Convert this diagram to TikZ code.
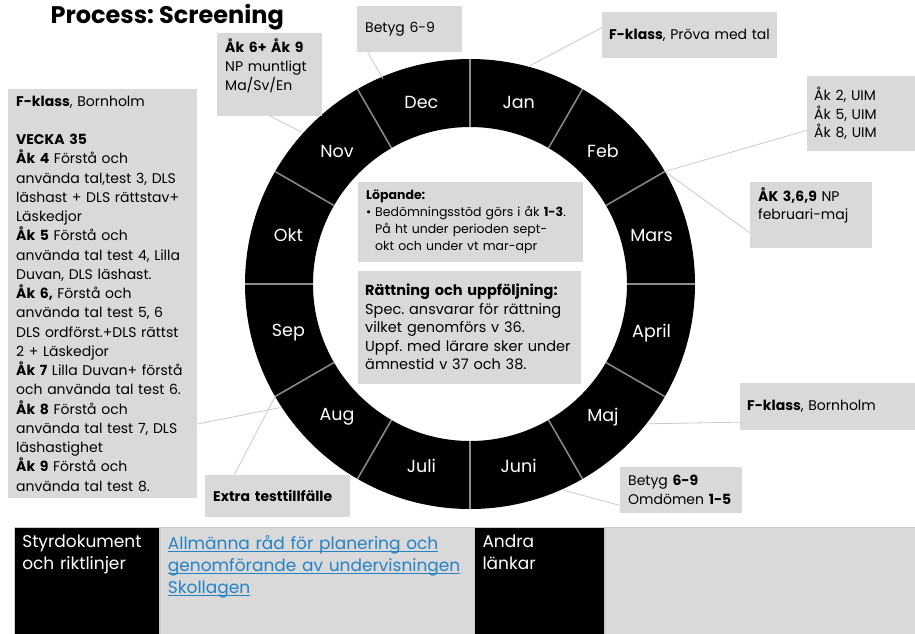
\documentclass[tikz,border=0pt]{standalone}
\usepackage{fontspec}
\setmainfont{Poppins}
\usetikzlibrary{positioning}
\definecolor{boxgray}{RGB}{217,217,217}
\definecolor{sepgray}{RGB}{140,140,140}
\definecolor{leadgray}{RGB}{200,200,200}
\definecolor{linkblue}{RGB}{38,131,198}
\newcommand\lnk[1]{\leavevmode\setbox0=\hbox{#1}\rlap{\rule[-2.5pt]{\wd0}{0.8pt}}\box0}
\frenchspacing

\begin{document}
\begin{tikzpicture}[x=1pt,y=-1pt,
    infobox/.style={rectangle, fill=boxgray, anchor=north west, inner xsep=8pt, inner ysep=5pt, align=left, font=\fontsize{14}{19.25}\selectfont},
    month/.style={text=white, font=\fontsize{17.5}{19}\selectfont},
    sepline/.style={sepgray, line width=1.5pt},
    leader/.style={leadgray, line width=0.8pt},
    cell/.style={rectangle, draw=gray!40, line width=0.6pt, anchor=north west, inner xsep=8pt, inner ysep=8pt, align=left, font=\fontsize{17}{22}\selectfont}]
\useasboundingbox (0,0) rectangle (915,633);

\node[anchor=base west, font=\fontsize{24}{28}\selectfont\bfseries] (title) at (47,23) {Process: Screening};

% arshjulet
\begin{scope}[shift={(470,284)}, yscale=-1]
  \fill[black, even odd rule] (0,0) circle (225) (0,0) circle (157);
  \foreach \a in {0,30,...,330}
    \draw[sepline] (\a:157) -- (\a:225);
  \foreach \m/\a in {Jan/75, Feb/45, Mars/15, April/-15, Maj/-45, Juni/-75, Juli/-105, Aug/-135, Sep/-165, Okt/165, Nov/135, Dec/105}
    \node[month] (m-\m) at (\a:188) {\m};
  \coordinate (p-jan) at (75:225);
  \coordinate (p-feb) at (30:225);
  \coordinate (p-maj) at (-38:227);
  \coordinate (p-juni) at (-66:225);
  \coordinate (p-sep) at (210:225);
  \coordinate (p-aug) at (213:227);
  \coordinate (p-nov) at (138:227);
  \coordinate (p-dec) at (113:223);
\end{scope}

% rutor runt hjulet
\node[infobox, text width=89pt, minimum height=46pt] (betyg) at (357,6) {Betyg 6-9};
\node[infobox, text width=89pt, minimum height=82pt] (muntligt) at (217,33) {\textbf{Åk 6+ Åk 9}\\NP muntligt\\Ma/Sv/En\rule[-20pt]{0pt}{0pt}};
\node[infobox, text width=173pt, minimum height=409pt] (fklass) at (8,89) {\textbf{F-klass}, Bornholm\\[19.25pt]
  \textbf{VECKA 35}\\
  \textbf{Åk 4} Förstå och\\
  använda tal,test 3, DLS\\
  läshast + DLS rättstav+\\
  Läskedjor\\
  \textbf{Åk 5} Förstå och\\
  använda tal test 4, Lilla\\
  Duvan, DLS läshast.\\
  \textbf{Åk 6,} Förstå och\\
  använda tal test 5, 6\\
  DLS ordförst.+DLS rättst\\
  2 + Läskedjor\\
  \textbf{Åk 7} Lilla Duvan+ förstå\\
  och använda tal test 6.\\
  \textbf{Åk 8} Förstå och\\
  använda tal test 7, DLS\\
  läshastighet\\
  \textbf{Åk 9} Förstå och\\
  använda tal test 8.};
\node[infobox, text width=129pt, minimum height=42pt] (extra) at (205,475) {\textbf{Extra testtillfälle}};
\node[infobox, text width=161pt, minimum height=46pt, inner xsep=7pt] (prova) at (602,12) {\textbf{F-klass}, Pröva med tal};
\node[infobox, text width=94pt, minimum height=75pt, inner xsep=7pt, font=\fontsize{14}{18.5}\selectfont] (uim) at (807,76) {Åk 2, UIM\\Åk 5, UIM\\Åk 8, UIM};
\node[infobox, text width=106pt, minimum height=66pt, font=\fontsize{14}{18}\selectfont] (np) at (750,182) {\textbf{ÅK 3,6,9} NP\\februari-maj\rule[-24pt]{0pt}{0pt}};
\node[infobox, text width=161pt, minimum height=47pt, inner xsep=7pt] (bornholm) at (740,383) {\textbf{F-klass}, Bornholm};
\node[infobox, text width=106pt, minimum height=46pt, font=\fontsize{14}{19}\selectfont] (omdomen) at (620,467) {Betyg \textbf{6-9}\\Omdömen \textbf{1-5}};

% mitten
\node[infobox, text width=209pt, minimum height=80pt, font=\fontsize{12.5}{17}\selectfont] (lopande) at (358,182) {\textbf{Löpande:}\\
  \makebox[9pt][l]{\textbullet}Bedömningsstöd görs i åk \textbf{1-3}.\\
  \hspace*{9pt}På ht under perioden sept-\\
  \hspace*{9pt}okt och under vt mar-apr};
\node[infobox, text width=209pt, minimum height=113pt, inner xsep=7pt, font=\fontsize{14.5}{18.5}\selectfont, below=8pt of lopande.south west, anchor=north west] (rattning) {\textbf{Rättning och uppföljning:}\\
  Spec. ansvarar för rättning\\
  vilket genomförs v 36.\\
  Uppf. med lärare sker under\\
  ämnestid v 37 och 38.};

% linjer till hjulet
\draw[leader] (betyg.209) -- (p-dec);
\draw[leader] (muntligt.south) -- (p-nov);
\draw[leader] (fklass.-54) -- (p-aug);
\draw[leader] (extra.154) -- (p-sep);
\draw[leader] (prova.175) -- (p-jan);
\draw[leader] (uim.197) -- (p-feb);
\draw[leader] (np.196) -- (p-feb);
\draw[leader] (bornholm.190) -- (p-maj);
\draw[leader] (omdomen.194) -- (p-juni);

% tabell
\node[cell, fill=black, text=white, text width=129pt] (styr) at (14,527) {Styrdokument\\och riktlinjer\rule[-80pt]{0pt}{0pt}};
\node[cell, fill=boxgray, text=linkblue, text width=298pt, right=0pt of styr.north east, anchor=north west] (allmanna) {\lnk{Allmänna råd för planering och}\\\lnk{genomförande av undervisningen}\\\lnk{Skollagen}\rule[-80pt]{0pt}{0pt}};
\node[cell, fill=black, text=white, text width=114pt, right=0pt of allmanna.north east, anchor=north west] (andra) {Andra\\länkar\rule[-80pt]{0pt}{0pt}};
\node[cell, fill=boxgray, text width=296pt, right=0pt of andra.north east, anchor=north west] (ovrigt) {\rule{0pt}{12pt}\rule[-80pt]{0pt}{0pt}};
\end{tikzpicture}
\end{document}
